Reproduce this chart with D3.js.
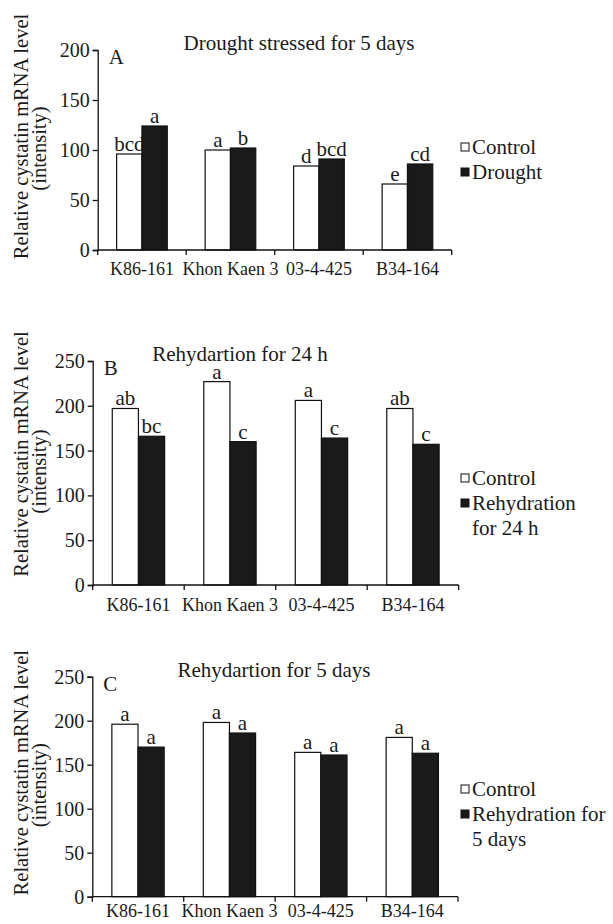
<!DOCTYPE html>
<html>
<head>
<meta charset="utf-8">
<script src="https://cdn.jsdelivr.net/npm/d3@7"></script>
<style>
  body { margin: 0; background: #fff; }
  svg { display: block; }
</style>
</head>
<body>
<svg id="chart" width="613" height="924"></svg>
<script>
// Cultivars on the x axis (same for all three panels)
const cultivars = ["K86-161", "Khon Kaen 3", "03-4-425", "B34-164"];

// Panel A: drought stressed for 5 days
const droughtControl = [96, 100, 84, 66];
const droughtTreated = [124, 102, 91, 86];
const droughtControlLetters = ["bcd", "a", "d", "e"];
const droughtTreatedLetters = ["a", "b", "bcd", "cd"];

// Panel B: rehydration for 24 h
const rehyd24Control = [197, 227, 206, 197];
const rehyd24Treated = [166, 160, 164, 157];
const rehyd24ControlLetters = ["ab", "a", "a", "ab"];
const rehyd24TreatedLetters = ["bc", "c", "c", "c"];

// Panel C: rehydration for 5 days
const rehyd5Control = [196, 198, 164, 181];
const rehyd5Treated = [170, 186, 161, 163];
const rehyd5ControlLetters = ["a", "a", "a", "a"];
const rehyd5TreatedLetters = ["a", "a", "a", "a"];

const ticksA = [0, 50, 100, 150, 200];
const ticksBC = [0, 50, 100, 150, 200, 250];

const svg = d3.select("#chart");
const ink = "#1a1a1a";
const font = "Liberation Serif";

// Panel layout (pixel frames) kept apart from the data
const panels = [
    {
        label: "A", title: "Drought stressed for 5 days", titleX: 299,
        control: droughtControl, treated: droughtTreated,
        cLetters: droughtControlLetters, tLetters: droughtTreatedLetters,
        max: 200, ticks: ticksA,
        left: 97.7, right: 451.7, top: 50, bottom: 250, xLabelDy: 25,
        legend: ["Control", "Drought"], legendY: 147, line1Shift: -13.5
    },
    {
        label: "B", title: "Rehydartion for 24 h", titleX: 240,
        control: rehyd24Control, treated: rehyd24Treated,
        cLetters: rehyd24ControlLetters, tLetters: rehyd24TreatedLetters,
        max: 250, ticks: ticksBC,
        left: 92.7, right: 458.7, top: 361, bottom: 585, xLabelDy: 26,
        legend: ["Control", "Rehydration", "for 24 h"], legendY: 478, line1Shift: -19
    },
    {
        label: "C", title: "Rehydartion for 5 days", titleX: 274,
        control: rehyd5Control, treated: rehyd5Treated,
        cLetters: rehyd5ControlLetters, tLetters: rehyd5TreatedLetters,
        max: 250, ticks: ticksBC,
        left: 92.3, right: 458, top: 676.7, bottom: 896.7, xLabelDy: 20,
        legend: ["Control", "Rehydration for", "5 days"], legendY: 789, line1Shift: -14
    }
];

panels.forEach(p => {
    const x = d3.scaleBand().domain(cultivars).range([p.left, p.right]).padding(0);
    const pairW = x.bandwidth() * 0.572;
    const xs = d3.scaleBand().domain(["control", "treated"]).range([0, pairW]);
    const y = d3.scaleLinear().domain([0, p.max]).range([p.bottom, p.top]);

    const g = svg.append("g");

    const rows = cultivars.map((c, i) => ({
        c, control: p.control[i], treated: p.treated[i],
        cl: p.cLetters[i], tl: p.tLetters[i]
    }));

    // bars + significance letters
    rows.forEach(d => {
        const x0 = x(d.c) + (x.bandwidth() - pairW) / 2;
        [["control", d.control, d.cl, "#fff"], ["treated", d.treated, d.tl, ink]].forEach(([k, v, letter, fill]) => {
            g.append("rect")
                .attr("x", x0 + xs(k))
                .attr("y", y(v))
                .attr("width", xs.bandwidth())
                .attr("height", y(0) - y(v))
                .attr("fill", fill)
                .attr("stroke", "#111")
                .attr("stroke-width", 1.2);
            g.append("text")
                .attr("x", x0 + xs(k) + xs.bandwidth() / 2)
                .attr("y", y(v) - 3)
                .attr("text-anchor", "middle")
                .attr("font-family", font)
                .attr("font-size", 21)
                .attr("fill", ink)
                .text(letter);
        });
    });

    // y axis
    g.append("g")
        .attr("transform", `translate(${p.left},0)`)
        .call(d3.axisLeft(y).tickValues(p.ticks).tickSize(5).tickPadding(3).tickFormat(d3.format("d")))
        .call(a => a.select(".domain").attr("stroke", "#111").attr("stroke-width", 1.3))
        .call(a => a.selectAll(".tick line").attr("stroke", "#111").attr("stroke-width", 1.3))
        .call(a => a.selectAll(".tick text")
            .attr("font-family", font).attr("font-size", 20).attr("fill", ink));

    // x axis: ticks at category boundaries
    const xa = g.append("g").attr("transform", `translate(0,${p.bottom})`);
    xa.append("line")
        .attr("x1", p.left).attr("x2", p.right)
        .attr("stroke", "#111").attr("stroke-width", 1.3);
    const bounds = cultivars.map(c => x(c)).concat([p.right]);
    xa.selectAll(".bt").data(bounds).join("line")
        .attr("x1", d => d).attr("x2", d => d)
        .attr("y1", 0).attr("y2", 5)
        .attr("stroke", "#111").attr("stroke-width", 1.3);
    xa.selectAll(".xl").data(cultivars).join("text")
        .attr("x", d => x(d) + x.bandwidth() / 2)
        .attr("y", p.xLabelDy)
        .attr("text-anchor", "middle")
        .attr("font-family", font)
        .attr("font-size", 18)
        .attr("fill", ink)
        .text(d => d);

    // panel letter and title
    g.append("text")
        .attr("x", p.left + 11).attr("y", p.top + 14)
        .attr("font-family", font).attr("font-size", 21).attr("fill", ink)
        .text(p.label);
    g.append("text")
        .attr("x", p.titleX).attr("y", p.top)
        .attr("text-anchor", "middle")
        .attr("font-family", font).attr("font-size", 21).attr("fill", ink)
        .text(p.title);

    // y axis title (two lines)
    const cy = (p.top + p.bottom) / 2;
    g.append("text")
        .attr("transform", `translate(28,${cy + p.line1Shift}) rotate(-90)`)
        .attr("text-anchor", "middle")
        .attr("font-family", font).attr("font-size", 20.5).attr("fill", ink)
        .text("Relative cystatin mRNA level");
    g.append("text")
        .attr("transform", `translate(46,${cy - 1.5}) rotate(-90)`)
        .attr("text-anchor", "middle")
        .attr("font-family", font).attr("font-size", 20.5).attr("fill", ink)
        .text("(intensity)");

    // legend
    const lg = g.append("g").attr("transform", `translate(461,${p.legendY})`);
    lg.append("rect").attr("x", 0).attr("y", -4).attr("width", 8).attr("height", 8)
        .attr("fill", "#fff").attr("stroke", "#111").attr("stroke-width", 1);
    lg.append("rect").attr("x", 0).attr("y", 21).attr("width", 8).attr("height", 8)
        .attr("fill", ink).attr("stroke", "#111").attr("stroke-width", 1);
    lg.selectAll(".lt").data(p.legend).join("text")
        .attr("x", 11)
        .attr("y", (d, i) => i * 25 + 7)
        .attr("font-family", font).attr("font-size", 21).attr("fill", ink)
        .text(d => d);
});
</script>
</body>
</html>
